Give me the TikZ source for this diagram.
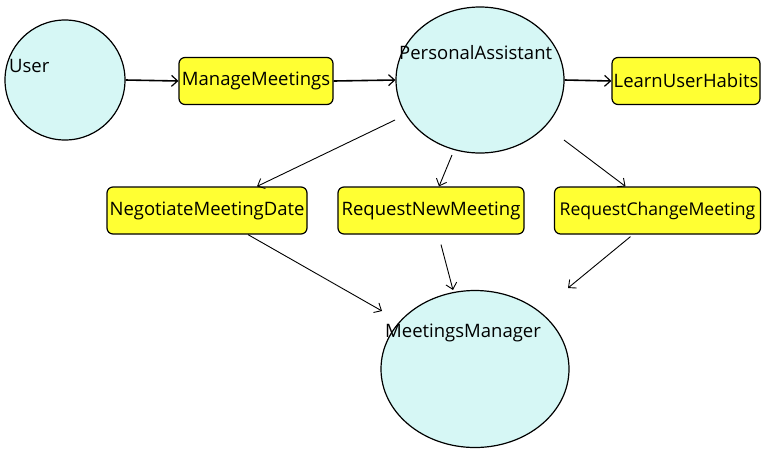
\documentclass[tikz,border=0pt]{standalone}
\usepackage{fontspec}
\setmainfont{Open Sans}
\usetikzlibrary{shapes.geometric,arrows.meta,calc}
\definecolor{agentfill}{HTML}{D6F7F5}
\definecolor{goalfill}{HTML}{FFFF33}
\tikzset{
  agent/.style={ellipse,draw=black,line width=1.2pt,fill=agentfill,inner sep=0pt},
  goal/.style={rectangle,rounded corners=6pt,draw=black,line width=1.2pt,fill=goalfill,
    minimum height=47pt,inner sep=0pt,font=\fontsize{18.5}{21}\selectfont},
  agentlabel/.style={anchor=west,inner sep=0pt,font=\fontsize{18.5}{21}\selectfont},
  mainflow/.style={line width=1.6pt,-{Straight Barb[length=6pt,width=11pt,line width=1.2pt]}},
  subflow/.style={line width=0.9pt,-{Straight Barb[length=6pt,width=11pt,line width=0.9pt]}}
}
\begin{document}
\begin{tikzpicture}[x=1pt,y=-1pt]
\useasboundingbox (0,0) rectangle (762,448);

% agents
\node[agent,minimum width=120pt,minimum height=120pt] (user) at (65,80) {};
\node[agent,minimum width=168pt,minimum height=146pt] (pa) at (480,80) {};
\node[agent,minimum width=188pt,minimum height=157pt] (mm) at (475,369) {};
\node[agentlabel] (userlbl) at (9,66) {User};
\node[agentlabel] (palbl) at (399,53) {PersonalAssistant};
\node[agentlabel] (mmlbl) at (385,333) {MeetingsManager};

% goals
\node[goal,minimum width=154pt] (man) at (256,81) {ManageMeetings};
\node[goal,minimum width=148pt] (luh) at (686,81) {LearnUserHabits};
\node[goal,minimum width=200pt] (neg) at (207,210.5) {NegotiateMeetingDate};
\node[goal,minimum width=186pt] (rnm) at (431,210.5) {RequestNewMeeting};
\node[goal,minimum width=206pt,font=\fontsize{17.6}{21}\selectfont] (rcm) at (657.5,210.5) {RequestChangeMeeting};

% main chain
\draw[mainflow] (user.east) -- (man.west);
\draw[mainflow] (man.east) -- (pa.west);
\draw[mainflow] (pa.east) -- (luh.west);

% assistant to sub-goals
\draw[subflow] ($(pa.center)+(-85,40)$) -- ($(neg.north)+(50,0)$);
\draw[subflow] ($(pa.center)+(-28,75)$) -- ($(rnm.north)+(8,0)$);
\draw[subflow] ($(pa.center)+(84,60)$) -- ($(rcm.north)+(-32,0)$);

% sub-goals to manager
\draw[subflow] ($(neg.south)+(41,0)$) -- ($(mm.center)+(-93,-58)$);
\draw[subflow] ($(rnm.south)+(10,10)$) -- ($(mm.center)+(-22,-79)$);
\draw[subflow] ($(rcm.south)+(-27,2)$) -- ($(mm.center)+(93,-81)$);
\end{tikzpicture}
\end{document}
